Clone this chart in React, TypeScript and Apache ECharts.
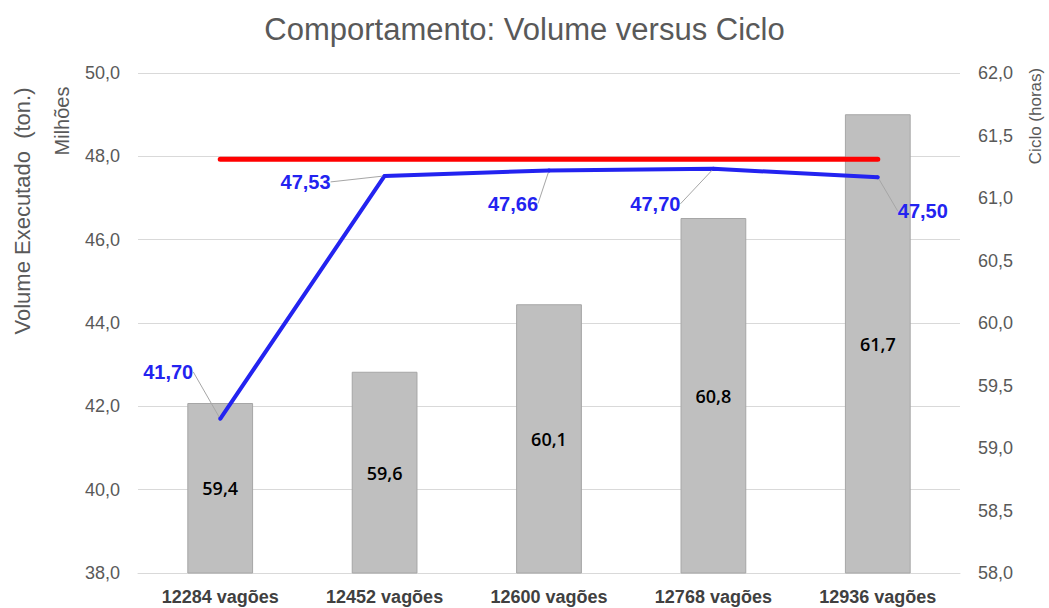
import React, { useEffect, useRef } from "react";
import * as echarts from "echarts";

const categories = ["12284 vagões", "12452 vagões", "12600 vagões", "12768 vagões", "12936 vagões"];
const cicloHoras = [59.36, 59.61, 60.15, 60.84, 61.67];
const volumeMilhoes = [41.7, 47.53, 47.66, 47.7, 47.5];
const metaVolume = [47.93, 47.93, 47.93, 47.93, 47.93];
const leftTicks = { min: 38, max: 50, interval: 2 };
const rightTicks = { min: 58, max: 62, interval: 0.5 };

const labelOffsets = [
  [-52, -30],
  [-79, 23],
  [-36, 50],
  [-58, 52],
  [45, 51],
];

const fmt = (v: number, d: number) => v.toFixed(d).replace(".", ",");
const FONT = "'Liberation Sans', Arial, sans-serif";

export default function App() {
  const ref = useRef<HTMLDivElement>(null);
  useEffect(() => {
    document.body.style.margin = "0";
    const chart = echarts.init(ref.current!, null, { renderer: "svg" });
    chart.setOption({
      animation: false,
      backgroundColor: "#fff",
      title: {
        text: "Comportamento: Volume versus Ciclo",
        left: "center",
        top: 9,
        textStyle: { fontFamily: FONT, fontSize: 31, fontWeight: "normal", color: "#595959" },
      },
      grid: { left: 138, right: 89, top: 73, bottom: 35 },
      xAxis: {
        type: "category",
        data: categories,
        axisTick: { show: false },
        axisLine: { lineStyle: { color: "#d9d9d9", width: 1 } },
        axisLabel: { fontFamily: FONT, fontSize: 18, fontWeight: "bold", color: "#404040", margin: 15 },
      },
      yAxis: [
        {
          type: "value",
          min: leftTicks.min,
          max: leftTicks.max,
          interval: leftTicks.interval,
          axisLine: { show: false },
          axisTick: { show: false },
          splitLine: { lineStyle: { color: "#d9d9d9", width: 1 } },
          axisLabel: { fontFamily: FONT, fontSize: 18, color: "#595959", margin: 18, formatter: (v: number) => fmt(v, 1) },
        },
        {
          type: "value",
          min: rightTicks.min,
          max: rightTicks.max,
          interval: rightTicks.interval,
          axisLine: { show: false },
          axisTick: { show: false },
          splitLine: { show: false },
          axisLabel: { fontFamily: FONT, fontSize: 18, color: "#595959", margin: 18, formatter: (v: number) => fmt(v, 1) },
        },
      ],
      graphic: [
        {
          type: "text",
          x: 22,
          y: 211,
          rotation: Math.PI / 2,
          style: {
            text: "Volume Executado  (ton.)",
            fontFamily: FONT,
            fontSize: 22,
            fill: "#595959",
            align: "center",
            verticalAlign: "middle",
          },
        },
        {
          type: "text",
          x: 62,
          y: 121,
          rotation: Math.PI / 2,
          style: { text: "Milhões", fontFamily: FONT, fontSize: 20, fill: "#595959", align: "center", verticalAlign: "middle" },
        },
        {
          type: "text",
          x: 1035,
          y: 116,
          rotation: Math.PI / 2,
          style: { text: "Ciclo (horas)", fontFamily: FONT, fontSize: 17, fill: "#595959", align: "center", verticalAlign: "middle" },
        },
      ],
      series: [
        {
          type: "bar",
          name: "Ciclo",
          yAxisIndex: 1,
          data: cicloHoras,
          barWidth: "40%",
          itemStyle: { color: "#bfbfbf", borderColor: "#a6a6a6", borderWidth: 1 },
          label: {
            show: true,
            position: "inside",
            fontFamily: "'Open Sans', 'Noto Sans', sans-serif",
            fontSize: 18,
            fontWeight: 600,
            color: "#000",
            formatter: (p: any) => fmt(p.value, 1),
          },
          z: 1,
        },
        {
          type: "line",
          name: "Meta",
          yAxisIndex: 0,
          data: metaVolume,
          symbol: "none",
          lineStyle: { color: "#ff0000", width: 5, cap: "round" },
          z: 3,
        },
        {
          type: "line",
          name: "Volume",
          yAxisIndex: 0,
          data: volumeMilhoes,
          symbol: "circle",
          symbolSize: 4,
          itemStyle: { color: "#2323f0" },
          lineStyle: { color: "#2323f0", width: 4 },
          label: {
            show: true,
            position: "top",
            fontFamily: FONT,
            fontSize: 20,
            fontWeight: "bold",
            color: "#2323f0",
            formatter: (p: any) => fmt(p.value, 2),
          },
          labelLine: { show: true, lineStyle: { color: "#a6a6a6", width: 1 } },
          labelLayout: (params: any) => {
            const o = labelOffsets[params.dataIndex] || [0, 0];
            return { dx: o[0], dy: o[1] };
          },
          z: 4,
        },
      ],
    });
    return () => chart.dispose();
  }, []);
  return <div ref={ref} style={{ width: 1049, height: 608 }} />;
}
